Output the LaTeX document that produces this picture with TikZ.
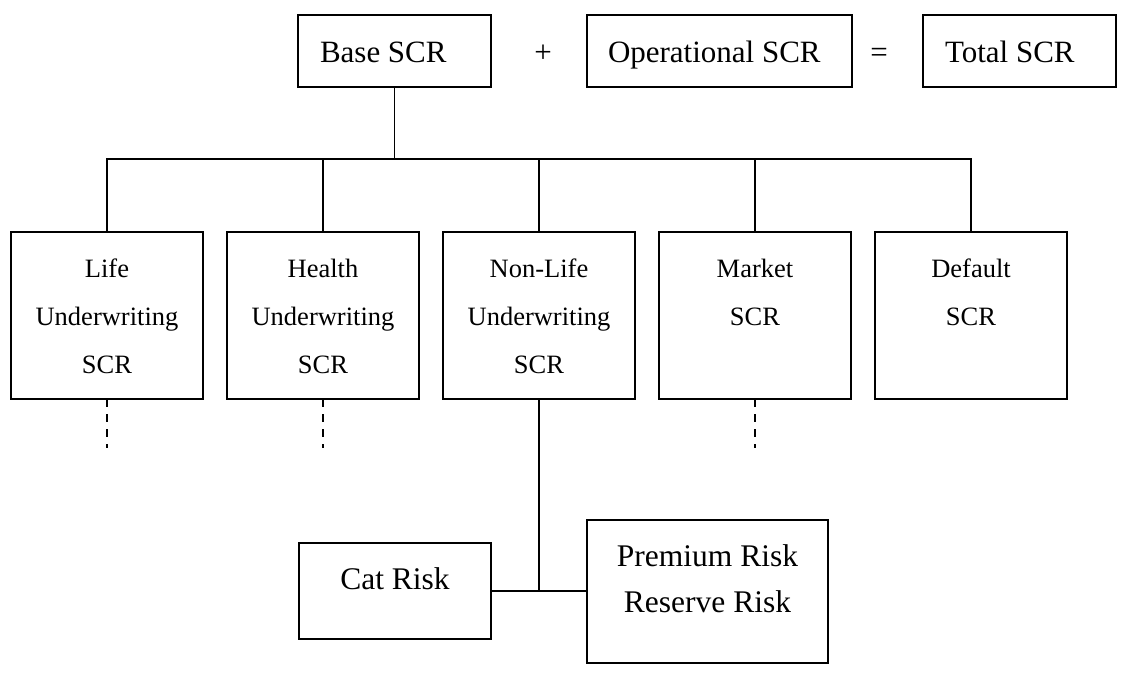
\documentclass[tikz,border=0pt]{standalone}
\usepackage{fontspec}
\setmainfont{Liberation Serif}
\newcommand{\stk}[1]{\vtop{\halign{\hfil##\hfil\cr#1\crcr}}}
\tikzset{
  boxbase/.style={draw, line width=1.6pt, inner sep=0pt, outer sep=0pt, anchor=north west},
  toprow/.style={boxbase, font=\fontsize{31}{37}\selectfont, text height=47pt, text depth=25pt},
  midrow/.style={boxbase, font=\fontsize{26.5}{48}\selectfont, minimum width=192pt, text height=45pt, text depth=122pt},
  lowrow/.style={boxbase, font=\fontsize{31.5}{46.7}\selectfont, text height=46pt},
  link/.style={line width=1.6pt},
  dashlink/.style={line width=1.6pt, dash pattern=on 8pt off 7pt},
  sym/.style={font=\fontsize{31}{37}\selectfont, anchor=base, inner sep=0pt}
}
\begin{document}
\begin{tikzpicture}[x=1pt,y=-1pt]
\useasboundingbox (0,0) rectangle (1121,675);
\node[toprow] (base) at (298,15) {\makebox[193pt][l]{\hspace{22pt}Base SCR}};
\node[sym] (plus) at (543,62) {+};
\node[toprow] (oper) at (587,15) {\makebox[265pt][l]{\hspace{21pt}Operational SCR}};
\node[sym] (eq) at (879,62) {=};
\node[toprow] (total) at (923,15) {\makebox[193pt][l]{\hspace{22pt}Total SCR}};

\node[midrow] (life) at (11,232) {\stk{Life\cr Underwriting\cr SCR}};
\node[midrow] (health) at (227,232) {\stk{Health\cr Underwriting\cr SCR}};
\node[midrow] (nonlife) at (443,232) {\stk{Non-Life\cr Underwriting\cr SCR}};
\node[midrow] (market) at (659,232) {\stk{Market\cr SCR}};
\node[midrow] (default) at (875,232) {\stk{Default\cr SCR}};

\node[lowrow, minimum width=192pt, text depth=50pt] (cat) at (299,543) {\stk{Cat Risk}};
\node[lowrow, minimum width=241pt, text depth=97pt] (prem) at (587,520) {\stk{Premium Risk\cr Reserve Risk}};

\coordinate (busy) at (0,159);
\draw[link] (base.south) -- (base.south |- busy);
\draw[link] (life.north) -- (life.north |- busy) -- (default.north |- busy) -- (default.north);
\foreach \n in {health,nonlife,market} \draw[link] (\n.north) -- (\n.north |- busy);
\coordinate (dashend) at (0,448);
\foreach \n in {life,health,market} \draw[dashlink] (\n.south) -- (\n.south |- dashend);
\draw[link] (nonlife.south) -- (nonlife.south |- cat.east);
\draw[link] (cat.east) -- (cat.east -| prem.west);
\end{tikzpicture}
\end{document}
